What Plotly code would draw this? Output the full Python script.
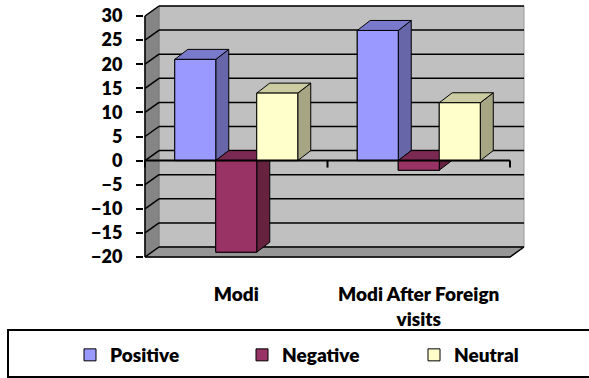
import plotly.graph_objects as go

# ---------------- data ----------------
categories = ["Modi", "Modi After Foreign<br>visits"]
series_names = ["Positive", "Negative", "Neutral"]
positive = [21, 27]
negative = [-19, -2]
neutral = [14, 12]
y_ticks = [-20, -15, -10, -5, 0, 5, 10, 15, 20, 25, 30]

series_values = [positive, negative, neutral]
front_colors = ["#9999FF", "#993366", "#FFFFCC"]
side_colors = ["#6666A8", "#66223F", "#A6A684"]
top_colors = ["#7A7ACC", "#7A2952", "#CCCCA3"]

# ---------------- geometry (pixels -> units) ----------------
W, H = 589, 378
px_x = 182.5          # pixels per category
px_y = 4.82           # pixels per value unit
wall_dx = 14 / px_x   # depth offset of back wall
wall_dy = 10 / px_y
bar_dx = 13 / px_x    # depth of bars
bar_dy = 10 / px_y
bar_w = 41 / px_x
pad_x = 1 / px_x
pad_y = 1 / px_y

ymin, ymax = y_ticks[0], y_ticks[-1]
xl, xr = -0.5, len(categories) - 0.5
x_range = [xl - pad_x, xr + wall_dx + pad_x]
y_range = [ymin - pad_y, ymax + wall_dy + pad_y]

plot_left = 144
plot_w = (x_range[1] - x_range[0]) * px_x
plot_top = 5
plot_h = (y_range[1] - y_range[0]) * px_y
m_l = plot_left
m_r = W - plot_left - plot_w
m_t = plot_top
m_b = H - plot_top - plot_h

def py_to_paper(py):
    return (plot_top + plot_h - py) / plot_h

def px_to_paper(px):
    return (px - plot_left) / plot_w

fig = go.Figure()

# ---------------- walls & gridlines (shapes below traces) ----------------
shapes = []
def poly(pts):
    return "M " + " L ".join(f"{x},{y}" for x, y in pts) + " Z"

# back wall
shapes.append(dict(type="path", layer="below", xref="x", yref="y",
                   path=poly([(xl + wall_dx, ymin + wall_dy), (xr + wall_dx, ymin + wall_dy),
                              (xr + wall_dx, ymax + wall_dy), (xl + wall_dx, ymax + wall_dy)]),
                   fillcolor="#C0C0C0", line=dict(color="#9A9A9A", width=1)))
# left side wall
shapes.append(dict(type="path", layer="below", xref="x", yref="y",
                   path=poly([(xl, ymin), (xl + wall_dx, ymin + wall_dy),
                              (xl + wall_dx, ymax + wall_dy), (xl, ymax)]),
                   fillcolor="#858585", line=dict(color="#777777", width=1)))
# floor
shapes.append(dict(type="path", layer="below", xref="x", yref="y",
                   path=poly([(xl, ymin), (xr, ymin), (xr + wall_dx, ymin + wall_dy),
                              (xl + wall_dx, ymin + wall_dy)]),
                   fillcolor="#969696", line=dict(color="#777777", width=1)))
# gridlines on back wall and side wall
for v in y_ticks:
    shapes.append(dict(type="line", layer="below", xref="x", yref="y",
                       x0=xl + wall_dx, y0=v + wall_dy, x1=xr + wall_dx, y1=v + wall_dy,
                       line=dict(color="black", width=1.5)))
    shapes.append(dict(type="line", layer="below", xref="x", yref="y",
                       x0=xl, y0=v, x1=xl + wall_dx, y1=v + wall_dy,
                       line=dict(color="black", width=1.5)))
# floor front edge + right diagonal
shapes.append(dict(type="path", layer="below", xref="x", yref="y",
                   path=f"M {xl},{ymin} L {xr},{ymin} L {xr + wall_dx},{ymin + wall_dy}",
                   line=dict(color="black", width=1.5)))
# front left edge (value axis line)
shapes.append(dict(type="line", layer="below", xref="x", yref="y",
                   x0=xl, y0=ymin, x1=xl, y1=ymax, line=dict(color="black", width=1.5)))

# legend box
shapes.append(dict(type="rect", xref="paper", yref="paper",
                   x0=px_to_paper(8), x1=px_to_paper(W + 10),
                   y0=py_to_paper(377), y1=py_to_paper(330),
                   line=dict(color="black", width=2), fillcolor="rgba(0,0,0,0)"))

# ---------------- bars (front faces, legend) ----------------
n_series = len(series_values)
for s, (name, vals) in enumerate(zip(series_names, series_values)):
    xs = [i + (s - (n_series - 1) / 2) * bar_w for i in range(len(categories))]
    fig.add_trace(go.Bar(x=xs, y=vals, width=bar_w, name=name,
                         marker=dict(color=front_colors[s], line=dict(color="black", width=1)),
                         hoverinfo="skip"))

# ---------------- 3D faces, drawn series by series ----------------
for s, vals in enumerate(series_values):
    fx, fy, sx, sy, tx, ty = [], [], [], [], [], []
    for i, v in enumerate(vals):
        left = i + (s - (n_series - 1) / 2) * bar_w - bar_w / 2
        right = left + bar_w
        top = max(v, 0)
        # front
        fx += [left, right, right, left, left, None]
        fy += [0, 0, v, v, 0, None]
        # right side
        sx += [right, right + bar_dx, right + bar_dx, right, right, None]
        sy += [0, bar_dy, v + bar_dy, v, 0, None]
        # top
        tx += [left, right, right + bar_dx, left + bar_dx, left, None]
        ty += [top, top, top + bar_dy, top + bar_dy, top, None]
    for xx, yy, col in [(sx, sy, side_colors[s]), (tx, ty, top_colors[s]), (fx, fy, front_colors[s])]:
        fig.add_trace(go.Scatter(x=xx, y=yy, mode="lines", fill="toself", fillcolor=col,
                                 line=dict(color="black", width=1), showlegend=False,
                                 hoverinfo="skip"))

# category axis line at zero with boundary ticks
cx, cy = [xl, xr, None], [0, 0, None]
for k in range(len(categories) + 1):
    cx += [xl + k, xl + k, None]
    cy += [0, -7 / px_y, None]
fig.add_trace(go.Scatter(x=cx, y=cy, mode="lines", line=dict(color="black", width=2),
                         showlegend=False, hoverinfo="skip"))

font = dict(family="Lato", size=18, color="black", weight=800)
font_big = dict(family="Lato", size=19, color="black", weight=800)

fig.update_layout(
    width=W, height=H,
    margin=dict(l=m_l, r=m_r, t=m_t, b=m_b, pad=0, autoexpand=False),
    paper_bgcolor="white", plot_bgcolor="rgba(0,0,0,0)",
    barmode="overlay",
    shapes=shapes,
    font=font,
    showlegend=True,
    hovermode=False,
    legend=dict(orientation="h", x=px_to_paper(70), xanchor="left",
                y=py_to_paper(336), yanchor="top",
                entrywidth=127, entrywidthmode="pixels",
                bgcolor="rgba(0,0,0,0)", borderwidth=0, font=font_big),
    xaxis=dict(range=x_range, tickvals=list(range(len(categories))), ticktext=categories,
               showgrid=False, zeroline=False, showline=False, ticks="",
               ticklabelstandoff=23, tickfont=font_big, fixedrange=True, automargin=False),
    yaxis=dict(range=y_range, tickvals=y_ticks, showgrid=False, zeroline=False,
               showline=False, ticks="outside", ticklen=7, tickwidth=1.5, tickcolor="black",
               ticklabelstandoff=10, tickfont=font, fixedrange=True, automargin=False),
)

# remove the default page margin so the figure sits at the window origin
fig.write_html("out.html", config={"displayModeBar": False, "staticPlot": False},
               post_script="document.body.style.margin='0';")
